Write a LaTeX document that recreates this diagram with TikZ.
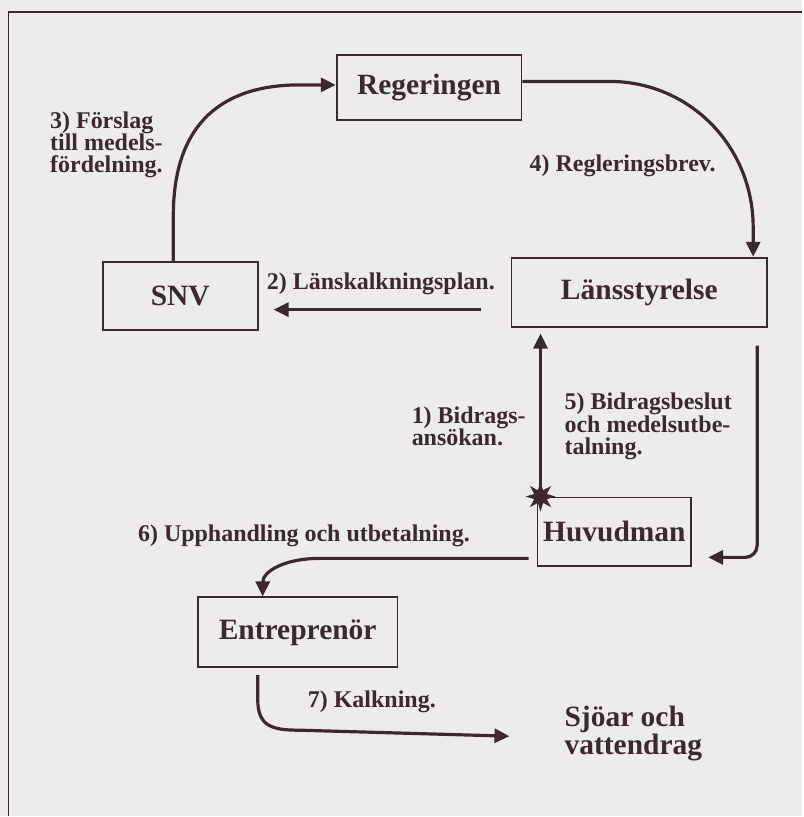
\documentclass[tikz,border=0pt]{standalone}
\usepackage{fontspec}
\setmainfont{Liberation Serif}
\usetikzlibrary{arrows.meta,shapes.geometric}
\definecolor{ink}{RGB}{58,42,48}
\definecolor{paper}{RGB}{237,236,234}

\begin{document}
\begin{tikzpicture}[x=1pt,y=-1pt,
    box/.style 2 args={draw=ink,line width=1.8pt,minimum width=#1,minimum height=#2,inner sep=0pt,text=ink,font=\fontsize{29.5}{33}\selectfont\bfseries},
    lbl/.style={anchor=west,align=left,inner sep=0pt,text=ink,font=\fontsize{24}{22.5}\selectfont\bfseries},
    arr/.style={draw=ink,line width=3.2pt,-{Triangle[length=15pt,width=14pt]}}]

    \fill[paper] (0,0) rectangle (803,817);
    \draw[ink,line width=1.8pt] (8.5,817) -- (8.5,12) -- (803,12);

    \node[box={185pt}{65pt}] (reg) at (429.5,87.5) {Regeringen};
    \node[box={155pt}{68pt}] (snv) at (180.5,296) {SNV};
    \node[box={256pt}{69pt}] (lans) at (640,292.5) {Länsstyrelse};
    \node[box={154pt}{69pt}] (huvud) at (615,532.5) {Huvudman};
    \node[box={200pt}{70pt}] (entre) at (298,633) {Entreprenör};
    \node[lbl,font=\fontsize{29.5}{28}\selectfont\bfseries] (sjo) at (565,734) {Sjöar och\\vattendrag};

    \node[lbl] (l3) at (50,145) {3) Förslag\\till medels-\\fördelning.};
    \node[lbl] (l4) at (530,166) {4) Regleringsbrev.};
    \node[lbl] (l2) at (267,284) {2) Länskalkningsplan.};
    \node[lbl] (l1) at (412,427) {1) Bidrags-\\ansökan.};
    \node[lbl] (l5) at (565,427) {5) Bidragsbeslut\\och medelsutbe-\\talning.};
    \node[lbl] (l6) at (138,536) {6) Upphandling och utbetalning.};
    \node[lbl] (l7) at (308,703) {7) Kalkning.};

    \node[star,star points=8,star point ratio=2.2,fill=ink,minimum size=30pt,inner sep=0pt] (burst) at ([xshift=4pt]huvud.north west) {};

    \draw[arr] ([xshift=-7pt]snv.north) -- ++(0,-45) .. controls +(0,-95) and +(-75,0) .. (300,85) -- (reg.west |- 300,85);
    \draw[arr] ([yshift=6pt]reg.east) -- (610,81.5) .. controls (690,81.5) and (754,146) .. (754,228) -- ([xshift=114pt]lans.north);
    \draw[arr] ([xshift=-30pt,yshift=-17.5pt]lans.west) -- ([xshift=15pt,yshift=-14pt]snv.east);
    \draw[arr] ([xshift=4pt]huvud.north west) -- ([xshift=30pt,yshift=-6pt]lans.south west);
    \draw[arr,rounded corners=12pt] ([xshift=118pt,yshift=-18pt]lans.south) |- ([xshift=16pt,yshift=-25.5pt]huvud.east);
    \draw[arr] ([xshift=-8pt,yshift=-26.5pt]huvud.west) -- (320,559) .. controls (285,559) and (263,572) .. ([xshift=-35pt]entre.north);
    \draw[arr] ([xshift=-40pt,yshift=-7pt]entre.south) -- (258,700) .. controls (258,727) and (272,731) .. (300,731) -- ([xshift=-55pt,yshift=-3pt]sjo.west);
\end{tikzpicture}
\end{document}
